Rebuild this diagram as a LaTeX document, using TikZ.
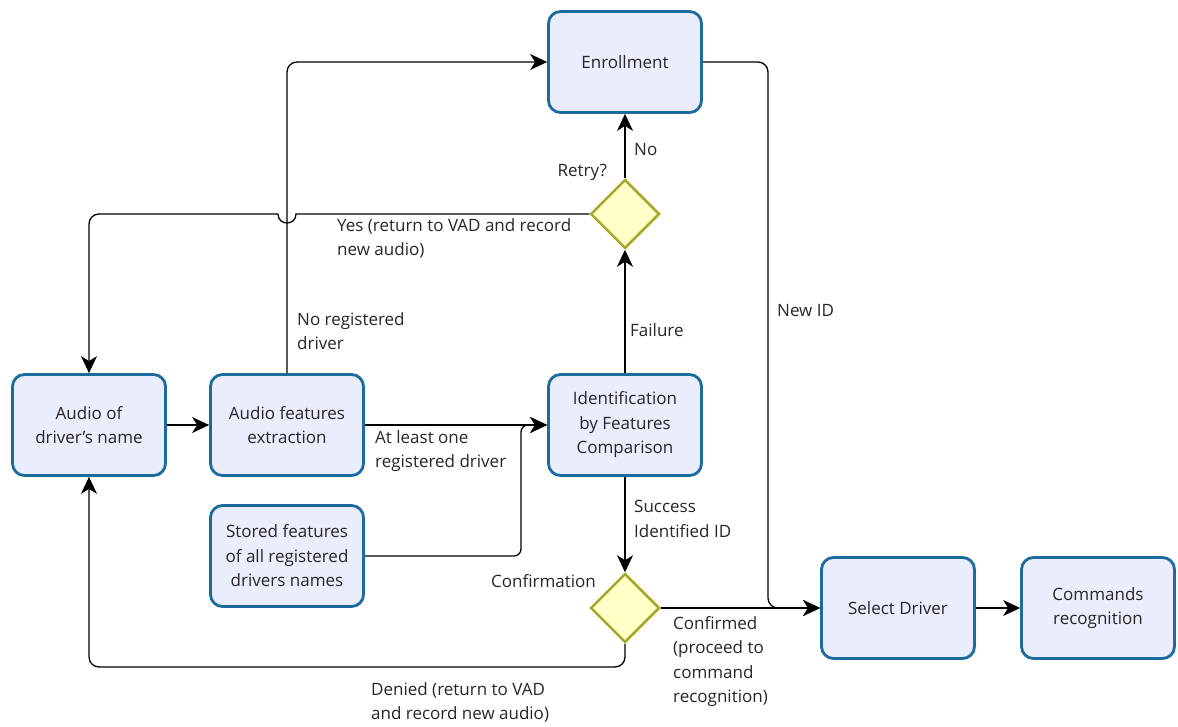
\documentclass[tikz,border=0pt]{standalone}
\usepackage{fontspec}
\setmainfont{Open Sans}
\usetikzlibrary{arrows.meta, calc, shapes.geometric}

\definecolor{boxline}{RGB}{27,108,156}
\definecolor{boxfill}{RGB}{234,237,252}
\definecolor{decline}{RGB}{168,168,40}
\definecolor{decfill}{RGB}{255,255,200}

\begin{document}
\begin{tikzpicture}[
    x=1pt, y=-1pt,
    every node/.style={font=\fontsize{17}{24.5}\selectfont, text=black!85},
    block/.style={
        draw=boxline, fill=boxfill,
        line width=2.8pt,
        rounded corners=12pt,
        minimum width=153pt, minimum height=101pt,
        align=center, inner sep=2pt
    },
    decision/.style={
        diamond, draw=decline, fill=decfill,
        line width=2.5pt,
        minimum width=69pt, minimum height=69pt,
        inner sep=0pt
    },
    wire/.style={line width=1.3pt},
    flow/.style={wire, -{Stealth[length=17pt, width=16pt, inset=5pt]}},
    lbl/.style={align=left, inner sep=0pt, anchor=north west}
]
\useasboundingbox (0,0) rectangle (1178,727);

% ===== 处理框 =====
\node[block] (audio)   at (89,425)  {Audio of\\driver's name};
\node[block] (extract) at (287,425) {Audio features\\extraction};
\node[block] (stored)  at (287,556) {Stored features\\of all registered\\drivers names};
\node[block] (ident)   at (625,425) {Identification\\by Features\\Comparison};
\node[block] (enroll)  at (625,62)  {Enrollment};
\node[block] (select)  at (898,608) {Select Driver};
\node[block] (cmds)    at (1098,608) {Commands\\recognition};

% ===== 判断菱形 =====
\node[decision] (retry)   at (625,214) {};
\node[decision] (confirm) at (625,608) {};

% ===== 辅助点 =====
\coordinate (cross)  at (extract.north |- retry.west); % 跳线处
\coordinate (jumpR)  at ($(cross)+(9,0)$);
\coordinate (jumpL)  at ($(cross)+(-9,0)$);
\coordinate (merge)  at (521,425);
\coordinate (newid)  at (768,608);
\coordinate (denied) at (625,667);

% ===== 连线 =====
\draw[flow] (audio) -- (extract);
\draw[flow] (extract) -- (ident);
\draw[flow, rounded corners=10pt] (extract.north) |- (enroll.west);
\draw[flow, rounded corners=7pt] (stored.east) -| (merge) -- (ident.west);
\draw[flow] (ident) -- (retry);
\draw[flow] (retry) -- (enroll);
\draw[wire] (retry.west) -- (jumpR) .. controls ($(jumpR)+(0,12)$) and ($(jumpL)+(0,12)$) .. (jumpL);
\draw[flow, rounded corners=10pt] (jumpL) -| (audio.north);
\draw[flow] (ident) -- (confirm);
\draw[flow] (confirm) -- (select);
\draw[flow, rounded corners=10pt] (enroll.east) -| (newid) -- (select.west);
\draw[flow, rounded corners=10pt] (confirm.south) -- (denied) -| (audio.south);
\draw[flow] (select) -- (cmds);

% ===== 标签 =====
\node[lbl] (lnoreg)  at (297,312) {No registered\\driver};
\node[lbl] (lleast)  at (375,430) {At least one\\registered driver};
\node[lbl] (lfail)   at (630,323) {Failure};
\node[lbl] (lsucc)   at (634,500) {Success\\Identified ID};
\node[lbl] (lno)     at (634,143) {No};
\node[lbl] (lnewid)  at (777,304) {New ID};
\node[lbl] (lyes)    at (337,218) {Yes (return to VAD and record\\new audio)};
\node[lbl] (lconfd)  at (673,616) {Confirmed\\(proceed to\\command\\recognition)};
\node[lbl] (ldenied) at (371,682) {Denied (return to VAD\\and record new audio)};
\node[lbl, anchor=north east] (lretry) at (607,164) {Retry?};
\node[lbl, anchor=north east] (lconf)  at (596,574) {Confirmation};

\end{tikzpicture}
\end{document}
